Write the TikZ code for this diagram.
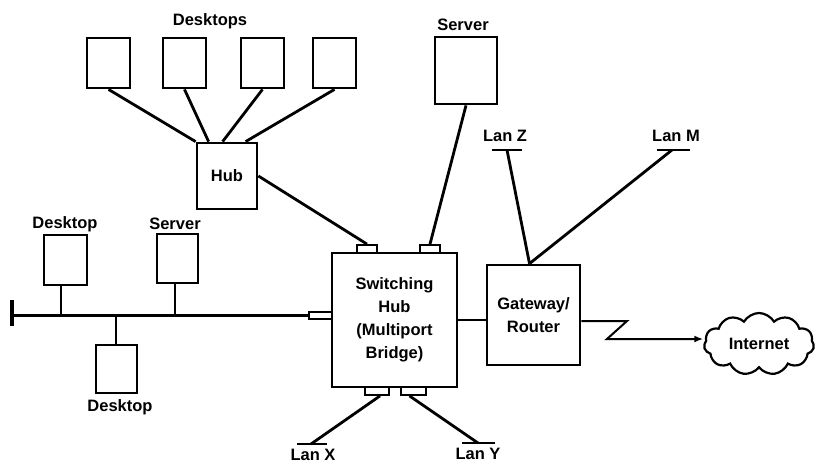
\documentclass[tikz,border=0pt]{standalone}
\usepackage{fontspec}
\setmainfont{Liberation Sans}
\usetikzlibrary{shapes.symbols,arrows.meta,calc}
\begin{document}
\begin{tikzpicture}[x=1pt,y=-1pt,
  every node/.style={font=\fontsize{16.5}{23}\selectfont\bfseries},
  box/.style={draw,line width=2.8pt,minimum width=#1,inner sep=0pt},
  pc/.style={draw,line width=2.8pt,minimum width=43pt,minimum height=50pt,inner sep=0pt},
  port/.style={draw,line width=1.8pt,inner sep=0pt},
  wire/.style={line width=2.8pt},
  lbl/.style={inner sep=0pt,anchor=center},
  bar/.style={line width=2.8pt}]
\useasboundingbox (0,0) rectangle (816,463);
% top desktops
\node[pc] (d1) at (108.5,63) {};
\node[pc] (d2) at (184.5,63) {};
\node[pc] (d3) at (262.5,63) {};
\node[pc] (d4) at (334.5,63) {};
\node[lbl] (ldesks) at (210,21) {Desktops};
\node[box=60pt,minimum height=66pt] (hub) at (227,176) {Hub};
\draw[wire] (d1.south) -- (hub.north west);
\draw[wire] (d2.south) -- ([xshift=13pt]hub.north west);
\draw[wire] (d3.south) -- ([xshift=27pt]hub.north west);
\draw[wire] (d4.south) -- ([xshift=50pt]hub.north west);
% server top
\node[box=62pt,minimum height=67pt] (srv) at (466,70.5) {};
\node[lbl] (lsrv) at (463,25) {Server};
% switching hub
\node[box=125pt,minimum height=134pt,align=center] (sw) at (394.5,320) {Switching\\Hub\\(Multiport\\Bridge)};
\node[port,minimum width=20pt,minimum height=8pt] (p1) at (367,249) {};
\node[port,minimum width=20pt,minimum height=8pt] (p2) at (430,249) {};
\node[port,minimum width=24pt,minimum height=8pt] (p3) at (377,391) {};
\node[port,minimum width=25pt,minimum height=8pt] (p4) at (413.5,391) {};
\node[port,minimum width=23pt,minimum height=7pt] (lp) at (320.5,315.5) {};
\draw[wire] (hub.east) -- (p1.north);
\draw[wire] (srv.south) -- (p2.north);
% left bus
\coordinate (busend) at (12,315.5);
\coordinate (capt) at (12,300);
\coordinate (capb) at (12,326);
\draw[line width=3.2pt] (capt) -- (capb);
\draw[wire] (busend) -- (lp.west);
\node[pc] (ld1) at (65.5,260) {};
\node[lbl] (lld1) at (65,224) {Desktop};
\node[box=41pt,minimum height=49pt] (ls) at (177.5,258.5) {};
\node[lbl] (lls) at (175,224) {Server};
\node[box=41pt,minimum height=48pt] (ld2) at (116.5,369) {};
\node[lbl] (lld2) at (120,407) {Desktop};
\coordinate (t1) at (61,315.5);
\coordinate (t2) at (175,315.5);
\coordinate (t3) at (116,315.5);
\draw[wire] (ld1.south -| t1) -- (t1);
\draw[wire] (ls.south -| t2) -- (t2);
\draw[wire] (t3) -- (ld2.north -| t3);
% gateway
\node[box=93pt,minimum height=100pt,align=center] (gw) at (533.5,315) {Gateway/\\Router};
\draw[wire] (sw.east) -- (sw.east -| gw.west);
% Lan Z and M
\coordinate (zl) at (492,150); \coordinate (zr) at (522,150); \coordinate (zc) at (507,150);
\coordinate (ml) at (657,150); \coordinate (mr) at (690,150); \coordinate (mc) at (672,150);
\draw[bar] (zl) -- (zr);
\draw[bar] (ml) -- (mr);
\node[lbl] (lz) at (505,136) {Lan Z};
\node[lbl] (lm) at (676,136) {Lan M};
\draw[wire] (zc) -- ([xshift=-4pt]gw.north);
\draw[wire] (mc) -- ([xshift=-4pt]gw.north);
% Lan X and Y
\coordinate (xl) at (297,444); \coordinate (xr) at (327,444); \coordinate (xc) at (311,444);
\coordinate (yl) at (462,443); \coordinate (yr) at (495,443); \coordinate (yc) at (478,443);
\draw[bar] (xl) -- (xr);
\draw[bar] (yl) -- (yr);
\node[lbl] (lx) at (313,455) {Lan X};
\node[lbl] (ly) at (478,454) {Lan Y};
\draw[wire] ([xshift=3pt]p3.south) -- (xc);
\draw[wire] ([xshift=-4pt]p4.south) -- (yc);
% internet
\node[cloud,draw,line width=2.2pt,cloud puffs=11,cloud puff arc=120,aspect=1.8,minimum width=110pt,minimum height=62pt,inner sep=0pt] (inet) at (759,344) {Internet};
\coordinate (zz1) at (627,321);
\coordinate (zz2) at (607,339);
\draw[line width=2pt,-{Latex[length=9pt,width=7pt]}] (gw.east |- zz1) -- (zz1) -- (zz2) -- (inet.west |- zz2);
\end{tikzpicture}
\end{document}
